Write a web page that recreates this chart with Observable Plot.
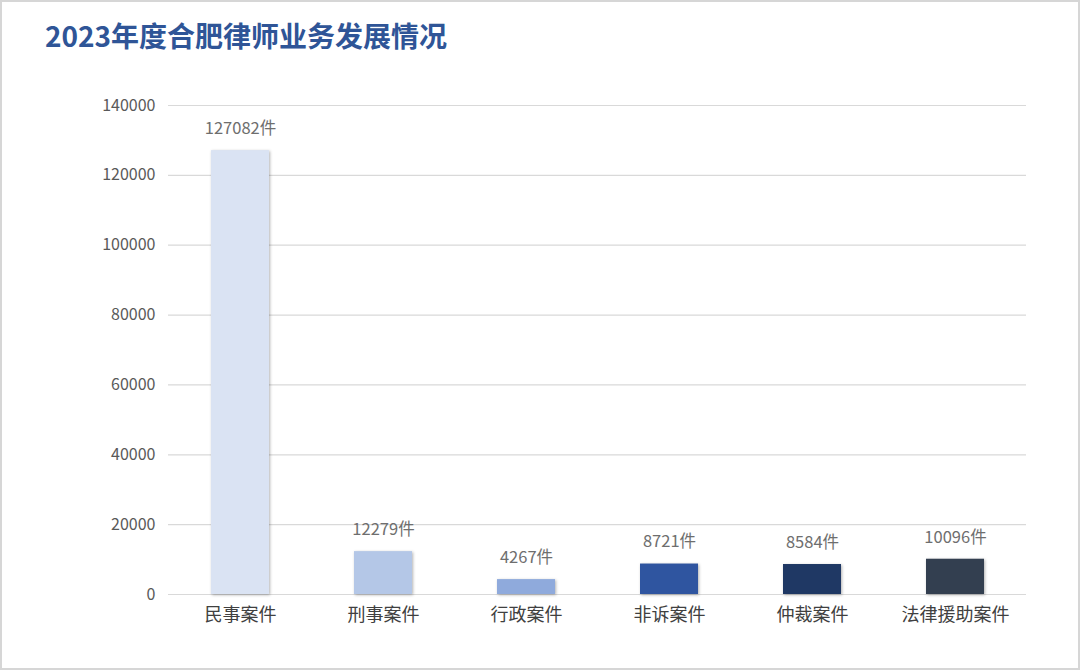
<!DOCTYPE html>
<html><head><meta charset="utf-8">
<script src="https://cdn.jsdelivr.net/npm/d3@7"></script>
<script src="https://cdn.jsdelivr.net/npm/@observablehq/plot@0.6"></script>
<style>
html,body{margin:0;padding:0;background:#fff;}
#wrap{position:relative;width:1080px;height:670px;overflow:hidden;font-family:"Noto Sans CJK SC","Noto Sans",sans-serif;}
#title{height:80px;box-sizing:border-box;padding:16px 0 0 45px;font-size:28px;font-weight:700;color:#2f5597;line-height:38px;}
#frame{position:absolute;left:0;top:0;width:1080px;height:670px;box-sizing:border-box;border:2px solid #d6d6d6;pointer-events:none;}
</style></head>
<body><div id="wrap"><div id="title">2023年度合肥律师业务发展情况</div><div id="chart"></div><div id="frame"></div></div>
<script>
const categories = ["民事案件","刑事案件","行政案件","非诉案件","仲裁案件","法律援助案件"];
const values = [127082, 12279, 4267, 8721, 8584, 10096];
const colors = ["#dae3f3","#b4c7e7","#8faadc","#2f55a0","#1f3864","#333f50"];
const yTicks = [0,20000,40000,60000,80000,100000,120000,140000];
const unit = "件";
const data = categories.map((c,i)=>({cat:c, value:values[i], color:colors[i]}));

const chart = Plot.plot({
  width:1080, height:590,
  marginTop:25, marginBottom:76, marginLeft:168, marginRight:54,
  style:{fontFamily:'"Noto Sans CJK SC","Noto Sans",sans-serif', background:"transparent"},
  x:{domain:categories, paddingInner:0.595, paddingOuter:0.2975, label:null},
  y:{domain:[0,140000], label:null},
  marks:[
    Plot.gridY(yTicks,{stroke:"#d9d9d9", strokeOpacity:1, strokeWidth:1.2}),
    Plot.barY(data,{x:"cat", y:"value", fill:"color"}),
    Plot.text(data,{x:"cat", y:"value", text:d=>d.value+unit, dy:-22, fill:"#6e6e6e", fontSize:16.5}),
    Plot.axisY({ticks:yTicks, tickSize:0, tickPadding:13, fontSize:16, fill:"#595959", tickFormat:d=>String(d)}),
    Plot.axisX({tickSize:0, tickPadding:14, fontSize:18, fill:"#404040"})
  ]
});
chart.querySelectorAll("[aria-label='bar'] rect").forEach(r=>r.setAttribute("style","filter:drop-shadow(1px 1px 1.5px rgba(0,0,0,0.3))"));
document.getElementById("chart").appendChild(chart);
</script></body></html>
